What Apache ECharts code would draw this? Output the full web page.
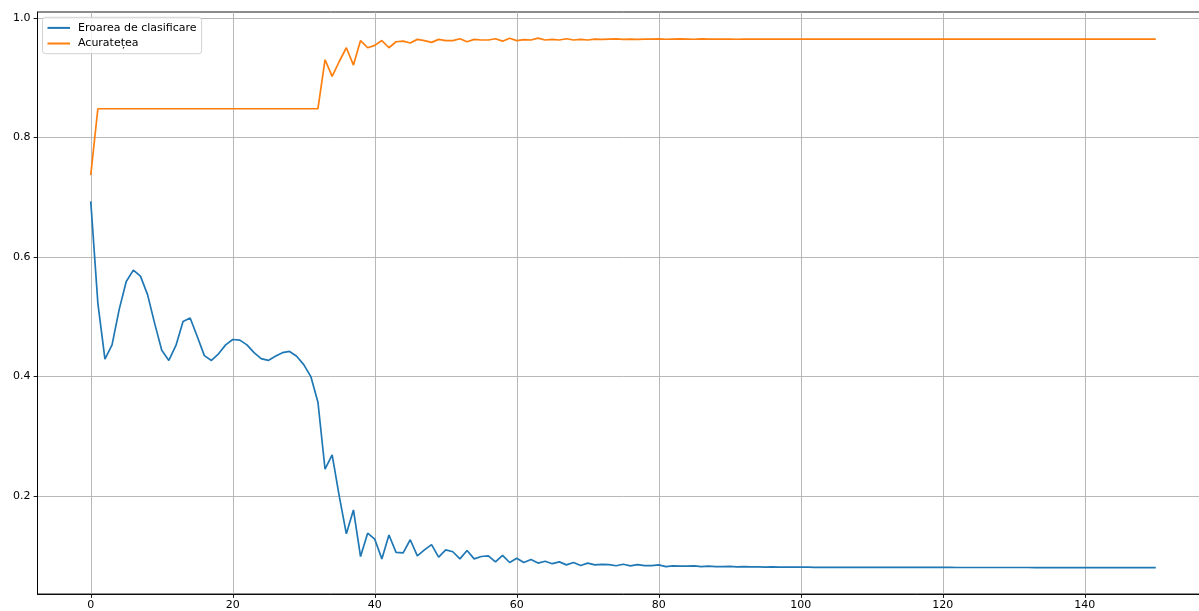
<!DOCTYPE html>
<html>
<head>
<meta charset="utf-8">
<script src="https://cdn.jsdelivr.net/npm/echarts@6/dist/echarts.min.js"></script>
<style>
html,body{margin:0;padding:0;background:#fff;overflow:hidden;width:1199px;height:611px;}
#chart{width:1214px;height:611px;}
</style>
</head>
<body>
<div id="chart"></div>
<script>
var seriesNames = ['Eroarea de clasificare', 'Acuratețea'];
var xTickLabels = [0, 20, 40, 60, 80, 100, 120, 140];
var yTickLabels = [0.2, 0.4, 0.6, 0.8, 1.0];

var eroare = [
  0.693, 0.523, 0.429, 0.453, 0.512, 0.559, 0.578, 0.568, 0.537, 0.489,
  0.444, 0.427, 0.452, 0.492, 0.498, 0.467, 0.435, 0.427, 0.438, 0.453,
  0.462, 0.461, 0.453, 0.440, 0.430, 0.427, 0.434, 0.440, 0.442, 0.434,
  0.420, 0.400, 0.357, 0.245, 0.269, 0.200, 0.137, 0.177, 0.099, 0.138,
  0.128, 0.095, 0.135, 0.106, 0.105, 0.127, 0.100, 0.110, 0.119, 0.098,
  0.110, 0.107, 0.095, 0.109, 0.095, 0.099, 0.100, 0.090, 0.101, 0.089,
  0.096, 0.089, 0.094, 0.088, 0.091, 0.087, 0.090, 0.085, 0.089, 0.084,
  0.088, 0.085, 0.086, 0.0855, 0.0835, 0.086, 0.0833, 0.0855, 0.0839, 0.0839,
  0.0850, 0.0822, 0.0833, 0.0828, 0.0828, 0.0833, 0.0822, 0.0828, 0.0822, 0.0822,
  0.0825, 0.0817, 0.0820, 0.0817, 0.0817, 0.0814, 0.0817, 0.0814, 0.0814, 0.0812,
  0.0811, 0.0811, 0.0810, 0.0810, 0.0810, 0.0809, 0.0809, 0.0809, 0.0809, 0.0808,
  0.0808, 0.0808, 0.0808, 0.0808, 0.0808, 0.0807, 0.0807, 0.0807, 0.0807, 0.0807,
  0.0807, 0.0807, 0.0806, 0.0806, 0.0806, 0.0806, 0.0806, 0.0806, 0.0806, 0.0806,
  0.0806, 0.0806, 0.0806, 0.0805, 0.0805, 0.0805, 0.0805, 0.0805, 0.0805, 0.0805,
  0.0805, 0.0805, 0.0805, 0.0805, 0.0805, 0.0805, 0.0805, 0.0805, 0.0805, 0.0805,
  0.0805
];

var acuratete = [
  0.737, 0.848, 0.848, 0.848, 0.848, 0.848, 0.848, 0.848, 0.848, 0.848,
  0.848, 0.848, 0.848, 0.848, 0.848, 0.848, 0.848, 0.848, 0.848, 0.848,
  0.848, 0.848, 0.848, 0.848, 0.848, 0.848, 0.848, 0.848, 0.848, 0.848,
  0.848, 0.848, 0.848, 0.930, 0.902, 0.927, 0.950, 0.921, 0.962, 0.950,
  0.954, 0.962, 0.950, 0.960, 0.961, 0.958, 0.964, 0.962, 0.959, 0.964,
  0.962, 0.962, 0.965, 0.960, 0.964, 0.963, 0.963, 0.965, 0.961, 0.966,
  0.962, 0.9635, 0.963, 0.966, 0.963, 0.964, 0.963, 0.965, 0.963, 0.964,
  0.963, 0.9645, 0.964, 0.9645, 0.965, 0.964, 0.9645, 0.964, 0.9645, 0.9645,
  0.9648, 0.9642, 0.9645, 0.9648, 0.9645, 0.9642, 0.9648, 0.9645, 0.9645, 0.9645,
  0.9645, 0.9642, 0.9645, 0.9645, 0.9645, 0.9645, 0.9645, 0.9645, 0.9645, 0.9645,
  0.9645, 0.9645, 0.9645, 0.9645, 0.9645, 0.9645, 0.9645, 0.9645, 0.9645, 0.9645,
  0.9645, 0.9645, 0.9645, 0.9645, 0.9645, 0.9645, 0.9645, 0.9645, 0.9645, 0.9645,
  0.9645, 0.9645, 0.9645, 0.9645, 0.9645, 0.9645, 0.9645, 0.9645, 0.9645, 0.9645,
  0.9645, 0.9645, 0.9645, 0.9645, 0.9645, 0.9645, 0.9645, 0.9645, 0.9645, 0.9645,
  0.9645, 0.9645, 0.9645, 0.9645, 0.9645, 0.9645, 0.9645, 0.9645, 0.9645, 0.9645,
  0.9645
];

function toPairs(arr) { return arr.map(function (v, i) { return [i, v]; }); }

var chart = echarts.init(document.getElementById('chart'), null, {renderer: 'canvas'});
var FONT = 'DejaVu Sans';
chart.setOption({
  animation: false,
  backgroundColor: '#ffffff',
  textStyle: {fontFamily: FONT},
  grid: {
    left: 37.5, top: 12, width: 1171.5, height: 584,
    show: true, borderColor: '#000', borderWidth: 0.9, backgroundColor: 'transparent',
    containLabel: false
  },
  legend: {
    orient: 'vertical',
    left: 42.5, top: 17.3,
    padding: [5, 5, 4.6, 4],
    itemWidth: 22.5, itemHeight: 14, itemGap: 4.4,
    backgroundColor: 'rgba(255,255,255,0.8)',
    borderColor: '#cccccc', borderWidth: 0.9, borderRadius: 3,
    itemStyle: {opacity: 0},
    textStyle: {fontFamily: FONT, fontSize: 11, color: '#000', padding: [0, 0, 0, 3]},
    data: seriesNames
  },
  xAxis: {
    type: 'value', min: -7.5, max: 157.5, splitNumber: 8,
    axisLine: {show: true, onZero: false, lineStyle: {color: '#000', width: 0.9}},
    axisTick: {show: true, inside: false, length: 3.9, lineStyle: {color: '#000', width: 0.9}, customValues: xTickLabels},
    axisLabel: {show: true, margin: 6, fontSize: 11, color: '#000', fontFamily: FONT, customValues: xTickLabels,
      hideOverlap: false},
    splitLine: {show: true, lineStyle: {color: '#b0b0b0', width: 0.9}}
  },
  yAxis: {
    type: 'value', min: 0.0363, max: 1.0098, splitNumber: 5,
    axisLine: {show: true, onZero: false, lineStyle: {color: '#000', width: 0.9}},
    axisTick: {show: true, inside: false, length: 3.9, lineStyle: {color: '#000', width: 0.9}, customValues: yTickLabels},
    axisLabel: {show: true, margin: 7, fontSize: 11, color: '#000', fontFamily: FONT, customValues: yTickLabels,
      hideOverlap: false,
      formatter: function (v) { return Number(v).toFixed(1); }},
    splitLine: {show: true, lineStyle: {color: '#b0b0b0', width: 0.9}}
  },
  series: [
    {
      name: seriesNames[0], type: 'line', data: toPairs(eroare),
      symbol: 'none', showSymbol: false, smooth: false,
      lineStyle: {color: '#1f77b4', width: 1.7}, itemStyle: {color: '#1f77b4'}
    },
    {
      name: seriesNames[1], type: 'line', data: toPairs(acuratete),
      symbol: 'none', showSymbol: false, smooth: false,
      lineStyle: {color: '#ff7f0e', width: 1.7}, itemStyle: {color: '#ff7f0e'}
    }
  ]
});
</script>
</body>
</html>
